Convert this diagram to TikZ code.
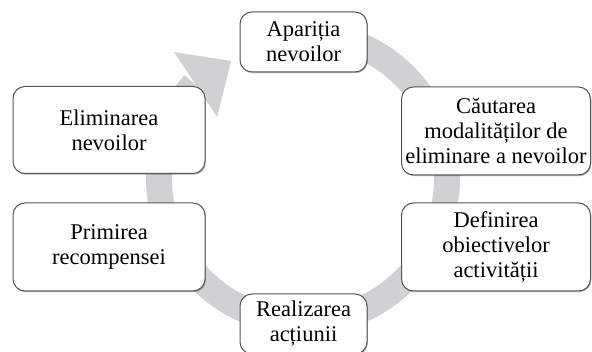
\documentclass[tikz,border=0pt]{standalone}
\usepackage{fontspec}
\setmainfont{Liberation Serif}
\usetikzlibrary{shadows}
\definecolor{ringgray}{RGB}{208,209,211}
\definecolor{boxline}{RGB}{85,85,85}

\begin{document}
\begin{tikzpicture}[x=1pt,y=-1pt,inner sep=0pt,outer sep=0pt,
	stagebox/.style={draw=boxline,line width=1pt,fill=white,rounded corners=12pt,
		align=center,font=\fontsize{22.5}{25}\selectfont,
		drop shadow={shadow xshift=0.8pt,shadow yshift=-1.2pt,opacity=.3,fill=black}},
	ring/.style={draw=ringgray,line width=26pt}]
	\useasboundingbox (0,0) rectangle (592,352);
	\coordinate (o) at (303,178);
	\draw[ring] (o) ++(275:144) arc[start angle=275,end angle=581,radius=144];
	\fill[ringgray] (174,52) -- (231,61) -- (217,117) -- cycle;
	\node[stagebox,minimum width=127,minimum height=60] (apar)   at (303.5,42)  {Apariția\\nevoilor};
	\node[stagebox,minimum width=189,minimum height=88] (caut)   at (496,131)   {Căutarea\\modalităților de\\eliminare a nevoilor};
	\node[stagebox,minimum width=189,minimum height=88] (defin)  at (496,247)   {Definirea\\obiectivelor\\activității};
	\node[stagebox,minimum width=127,minimum height=60] (realiz) at (303.5,324) {Realizarea\\acțiunii};
	\node[stagebox,minimum width=192,minimum height=88] (prim)   at (109,247)   {Primirea\\recompensei};
	\node[stagebox,minimum width=192,minimum height=87] (elim)   at (109,130)   {Eliminarea\\nevoilor};
\end{tikzpicture}
\end{document}
